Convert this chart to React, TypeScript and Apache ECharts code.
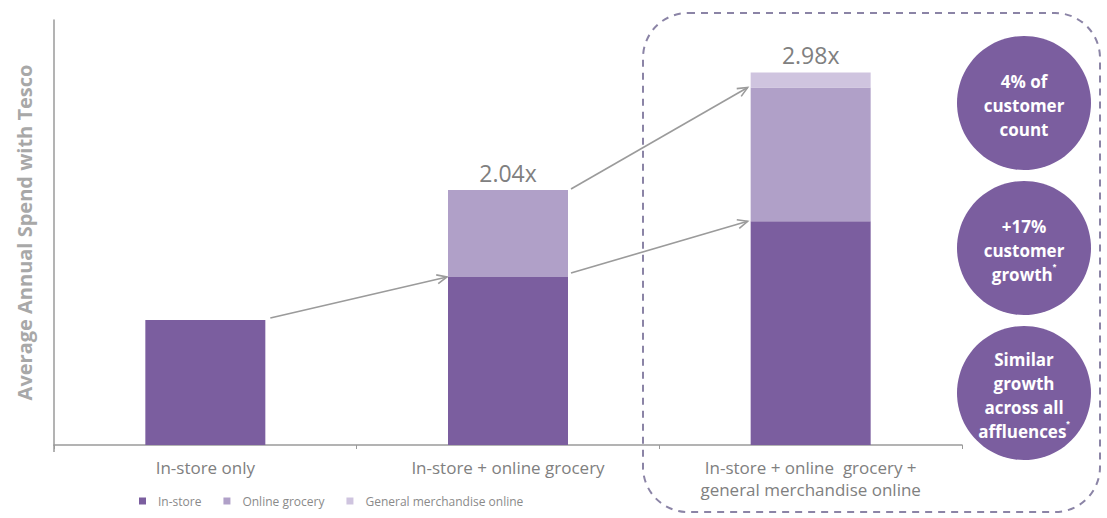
import React, { useEffect, useRef } from "react";
import * as echarts from "echarts";

const categories = [
  "In-store only",
  "In-store + online grocery",
  "In-store + online  grocery +\ngeneral merchandise online",
];
const inStore = [1.0, 1.344, 1.79];
const onlineGrocery = [0, 0.696, 1.07];
const generalMerch = [0, 0, 0.12];
const multipliers = ["", "2.04x", "2.98x"];
const calloutTexts = [
  "4% of\ncustomer\ncount",
  "+17%\ncustomer\ngrowth{s|*}",
  "Similar\ngrowth\nacross all\naffluences{s|*}",
];

const FONT = "'Open Sans', 'Noto Sans', sans-serif";
const C_IN = "#7b5e9f";
const C_ON = "#b0a0c8";
const C_GM = "#cfc4df";
const GREY = "#808080";
const BAR_W = 120;

export default function App() {
  const ref = useRef<HTMLDivElement>(null);
  useEffect(() => {
    if (!ref.current) return;
    const chart = echarts.init(ref.current, null, { renderer: "svg" });
    const totals = inStore.map((v, i) => v + onlineGrocery[i] + generalMerch[i]);
    const labelFor = (idx: number, seriesTop: number[]) =>
      seriesTop.map((_, i) => ({
        value: seriesTop[i],
        label: {
          show: multipliers[i] !== "" && ((idx === 2 && generalMerch[i] > 0) || (idx === 1 && generalMerch[i] === 0 && onlineGrocery[i] > 0)),
          position: "top",
          distance: 6,
          formatter: () => multipliers[i],
          fontSize: 23,
          color: GREY,
          fontFamily: FONT,
        },
      }));
    chart.setOption({
      animation: false,
      textStyle: { fontFamily: FONT },
      grid: { left: 54, right: 145, top: 20, bottom: 73 },
      legend: {
        left: 134,
        top: 490,
        itemWidth: 7,
        itemHeight: 7,
        itemGap: 22,
        icon: "rect",
        textStyle: { fontSize: 12, color: "#8a8a8a", fontFamily: FONT, padding: [0, 0, 0, 7] },
        data: ["In-store", "Online grocery", "General merchandise online"],
      },
      xAxis: {
        type: "category",
        data: categories,
        axisLine: { lineStyle: { color: "#9a9a9a", width: 1.5 } },
        axisTick: { show: true, length: 4, lineStyle: { color: "#9a9a9a" } },
        axisLabel: { fontSize: 17, color: GREY, margin: 11, lineHeight: 22, fontFamily: FONT },
      },
      yAxis: {
        type: "value",
        min: 0,
        max: 3.4,
        name: "Average Annual Spend with Tesco",
        nameLocation: "middle",
        nameRotate: 90,
        nameGap: 20,
        nameTextStyle: { fontSize: 20, fontWeight: "bold", color: "#a8a8a8", fontFamily: FONT },
        axisLine: { show: true, lineStyle: { color: "#9a9a9a", width: 1.5 } },
        axisTick: { show: false },
        axisLabel: { show: false },
        splitLine: { show: false },
      },
      series: [
        { name: "In-store", type: "bar", stack: "s", barWidth: BAR_W, itemStyle: { color: C_IN }, data: inStore },
        { name: "Online grocery", type: "bar", stack: "s", barWidth: BAR_W, itemStyle: { color: C_ON }, data: labelFor(1, onlineGrocery) },
        { name: "General merchandise online", type: "bar", stack: "s", barWidth: BAR_W, itemStyle: { color: C_GM }, data: labelFor(2, generalMerch) },
      ],
    });

    const px = (i: number, v: number) =>
      chart.convertToPixel({ xAxisIndex: 0, yAxisIndex: 0 }, [i, v]) as number[];
    const arrow = (x1: number, y1: number, x2: number, y2: number) => {
      const a = Math.atan2(y2 - y1, x2 - x1);
      const L = 11, sp = 0.42;
      return [
        { type: "line", shape: { x1, y1, x2, y2 }, style: { stroke: "#9b9b9b", lineWidth: 1.6 } },
        {
          type: "polyline",
          shape: {
            points: [
              [x2 - L * Math.cos(a - sp), y2 - L * Math.sin(a - sp)],
              [x2, y2],
              [x2 - L * Math.cos(a + sp), y2 - L * Math.sin(a + sp)],
            ],
          },
          style: { stroke: "#9b9b9b", lineWidth: 1.6, fill: "none" },
        },
      ];
    };
    const p0 = px(0, inStore[0]);
    const p1in = px(1, inStore[1]);
    const p1tot = px(1, totals[1]);
    const p2in = px(2, inStore[2]);
    const p2on = px(2, inStore[2] + onlineGrocery[2]);
    const base = px(0, 0);
    const hw = BAR_W / 2;
    const arrows = [
      ...arrow(p0[0] + hw + 5, p0[1] - 2, p1in[0] - hw - 1, p1in[1]),
      ...arrow(p1tot[0] + hw + 3, p1tot[1] - 1, p2on[0] - hw - 3, p2on[1]),
      ...arrow(p1in[0] + hw + 3, p1in[1] - 4, p2in[0] - hw - 3, p2in[1]),
    ];
    const circleCY = [103, 248, 393];
    const callouts = calloutTexts.map((t, i) => ({
      type: "group",
      children: [
        { type: "circle", shape: { cx: 1024, cy: circleCY[i], r: 67 }, style: { fill: C_IN } },
        {
          type: "text",
          x: 1024,
          y: circleCY[i] + 2,
          style: {
            text: t,
            fill: "#ffffff",
            fontSize: 17,
            fontWeight: "bold",
            fontFamily: FONT,
            lineHeight: 24,
            align: "center",
            verticalAlign: "middle",
            rich: { s: { fontSize: 9, fill: "#ffffff", fontWeight: "bold", verticalAlign: "top", lineHeight: 24, padding: [0, 0, 10, 0] } },
          },
        },
      ],
    }));
    chart.setOption({
      graphic: [
        {
          type: "rect",
          shape: { x: 643, y: 13, width: 457, height: 499, r: 45 },
          style: { fill: "none", stroke: "#8b84a6", lineWidth: 2, lineDash: [7, 6] },
        },
        {
          type: "line",
          shape: { x1: 54, y1: base[1], x2: 54, y2: base[1] + 7 },
          style: { stroke: "#9a9a9a", lineWidth: 1.5 },
        },
        ...arrows,
        ...callouts,
      ],
    });
    return () => chart.dispose();
  }, []);
  return <div ref={ref} style={{ width: 1107, height: 518, position: "absolute", left: 0, top: 0 }} />;
}
